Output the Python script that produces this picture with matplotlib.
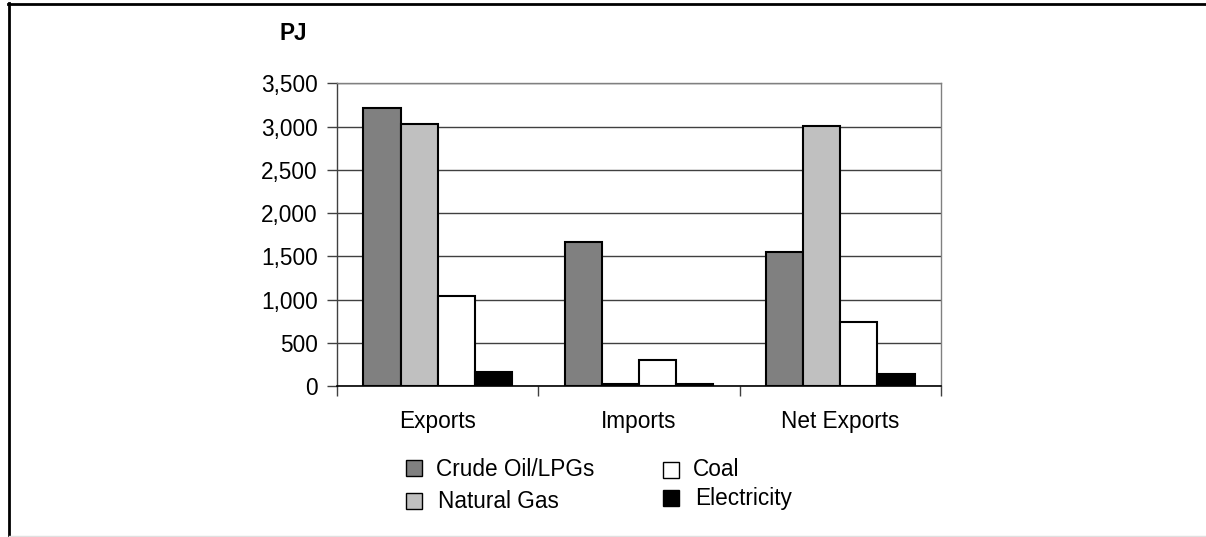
import matplotlib
matplotlib.use("Agg")
import matplotlib.pyplot as plt
from matplotlib.patches import Rectangle
from matplotlib.lines import Line2D
import numpy as np

plt.rcParams['font.family'] = ['Liberation Sans', 'DejaVu Sans']

categories = ["Exports", "Imports", "Net Exports"]
series = ["Crude Oil/LPGs", "Natural Gas", "Coal", "Electricity"]
crude_oil = [3220, 1668, 1552]
natural_gas = [3025, 23, 3002]
coal = [1040, 300, 740]
electricity = [158, 20, 138]
values = [crude_oil, natural_gas, coal, electricity]
colors = ["#808080", "#C0C0C0", "#FFFFFF", "#000000"]
yticks = [0, 500, 1000, 1500, 2000, 2500, 3000, 3500]

W, H = 1206, 537
fig = plt.figure(figsize=(W / 100, H / 100), dpi=100)
fs = 16.3

ax = fig.add_axes([337.3 / W, 1 - 386 / H, (940.7 - 337.3) / W, (386 - 83.3) / H])
ax.set_xlim(0, 3)
ax.set_ylim(0, 3500)

bw = 0.185
centers = np.arange(len(categories)) + 0.5
for i, (vals, col) in enumerate(zip(values, colors)):
    ax.bar(centers + (i - 1.5) * bw, vals, width=bw, color=col,
           edgecolor="black", linewidth=1.5, zorder=3)

ax.set_yticks(yticks)
ax.set_yticklabels([f"{v:,}" for v in yticks], fontsize=fs)
ax.yaxis.grid(True, color="#404040", linewidth=1.0, zorder=0)
ax.set_axisbelow(True)
ax.tick_params(axis="y", length=7, width=1, color="#404040", pad=7)

ax.set_xticks(centers)
ax.set_xticklabels(categories, fontsize=fs)
ax.set_xticks([0, 1, 2, 3], minor=True)
ax.tick_params(axis="x", which="major", length=0, pad=17)
ax.tick_params(axis="x", which="minor", length=7, width=1, color="#404040", direction="out")

for side in ["top", "right"]:
    ax.spines[side].set_color("#808080")
    ax.spines[side].set_linewidth(1.0)
ax.spines["left"].set_color("#404040")
ax.spines["left"].set_linewidth(1.0)
ax.spines["bottom"].set_color("black")
ax.spines["bottom"].set_linewidth(1.2)

fig.text(293 / W, 1 - 33 / H, "PJ", fontsize=fs, fontweight="bold",
         ha="center", va="center")

# legend entries placed as swatches with labels
legend_items = [
    (406, 467.5, 436, 469),
    (406, 501, 438, 502),
    (663, 470, 693, 470),
    (663, 497.5, 695, 499),
]
sq = 16
for (mx, my, tx, ty), name, col in zip(legend_items, series, colors):
    fig.add_artist(Rectangle((mx / W, 1 - (my + sq / 2) / H), sq / W, sq / H,
                             transform=fig.transFigure, facecolor=col,
                             edgecolor="black", linewidth=1.0))
    fig.text(tx / W, 1 - ty / H, name, fontsize=fs, ha="left", va="center")

# outer frame
fig.add_artist(Line2D([9 / W, 9 / W], [0, 1 - 3 / H], transform=fig.transFigure,
                      color="black", linewidth=2.0))
fig.add_artist(Line2D([8 / W, 1], [1 - 4 / H, 1 - 4 / H], transform=fig.transFigure,
                      color="black", linewidth=2.0))
fig.add_artist(Line2D([9 / W, 1], [1 - 536 / H, 1 - 536 / H], transform=fig.transFigure,
                      color="#e0e0e0", linewidth=1.0))

fig.savefig("out.png", dpi=100)
